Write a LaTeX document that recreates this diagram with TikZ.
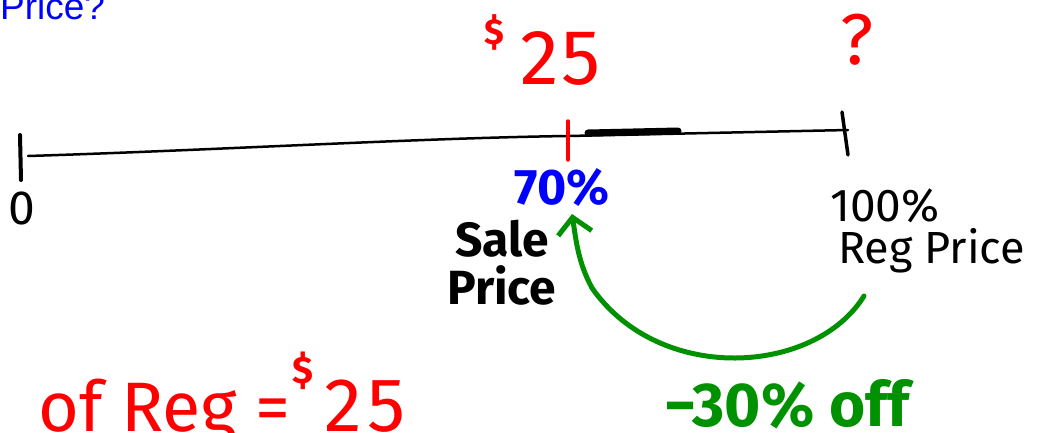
\documentclass[tikz,border=0pt]{standalone}
\usepackage{fontspec}
\setmainfont{Fira Sans}
\newfontfamily\arialf{Liberation Sans}
\usetikzlibrary{arrows.meta}
\definecolor{pblue}{RGB}{0,0,255}
\definecolor{pred}{RGB}{255,0,0}
\definecolor{pgreen}{RGB}{0,145,0}
\tikzset{
  lbl/.style={inner sep=0pt, anchor=base west},
  numline/.style={black, line width=2.5pt, line cap=round},
  tick/.style={line width=4pt, line cap=round},
  greenarrow/.style={pgreen, line width=5pt, line cap=round, -{Straight Barb[length=16pt,width=34pt,line width=5pt]}},
}
\begin{document}
\begin{tikzpicture}[x=1pt,y=-1pt]
\useasboundingbox (0,0) rectangle (1045,432);
\clip (0,0) rectangle (1045,432);

% title fragment
\node[lbl, text=pblue] (title) at (0,19) {\arialf\fontsize{37}{40}\selectfont Price?};

% prices above line
\node[lbl, text=pred] (dollar1) at (484,44) {\fontsize{36}{40}\selectfont\bfseries\$};
\node[lbl, text=pred] (price25) at (520,84) {\fontsize{78}{80}\selectfont 2\kern3pt 5};
\node[lbl, text=pred] (question) at (840,64) {\fontsize{72}{74}\selectfont ?};

% number line
\coordinate (L0) at (28,156);
\coordinate (M) at (568,136);
\coordinate (R) at (848,130);
\draw[numline] (L0) .. controls (220,150) and (420,138) .. (M) -- (R);
\draw[black, line width=7pt, line cap=round] (588,133) -- (678,131);

% ticks
\draw[tick, black] (20,135) -- (21,180);
\draw[tick, pred, line width=3.5pt] (568,121) -- (568,160);
\draw[tick, black, line width=3.5pt] (842,112) -- (848,155);

% labels below line
\node[lbl, text=black] (zero) at (8,224) {\fontsize{48}{50}\selectfont 0};
\node[lbl, text=pblue] (p70) at (514,204) {\fontsize{50}{50}\selectfont\bfseries 70\%};
\node[lbl, text=black] (sale) at (455,256) {\fontsize{48}{50}\selectfont\bfseries Sale};
\node[lbl, text=black] (saleprice) at (447,304) {\fontsize{48}{50}\selectfont\bfseries Price};
\node[lbl, text=black] (p100) at (830,221) {\fontsize{46}{50}\selectfont 100\%};
\node[lbl, text=black] (regprice) at (838,263) {\fontsize{45}{50}\selectfont Reg Price};

% green arrow from Reg Price to 70%
\coordinate (ga) at (864,296);
\coordinate (gb) at (572,214);
\draw[greenarrow] (ga) .. controls (815,375) and (660,385) .. (592,288) .. controls (578,262) and (576,240) .. (gb);

\node[lbl, text=pgreen] (off) at (664,426) {\fontsize{62}{64}\selectfont\bfseries −30\% off};

% bottom red equation
\node[lbl, text=pred] (ofreg) at (38,431) {\fontsize{70}{74}\selectfont of Reg =};
\node[lbl, text=pred] (dollar2) at (292,383) {\fontsize{38}{40}\selectfont\bfseries\$};
\node[lbl, text=pred] (price25b) at (324,431) {\fontsize{76}{78}\selectfont 2\kern6pt 5};
\end{tikzpicture}
\end{document}
